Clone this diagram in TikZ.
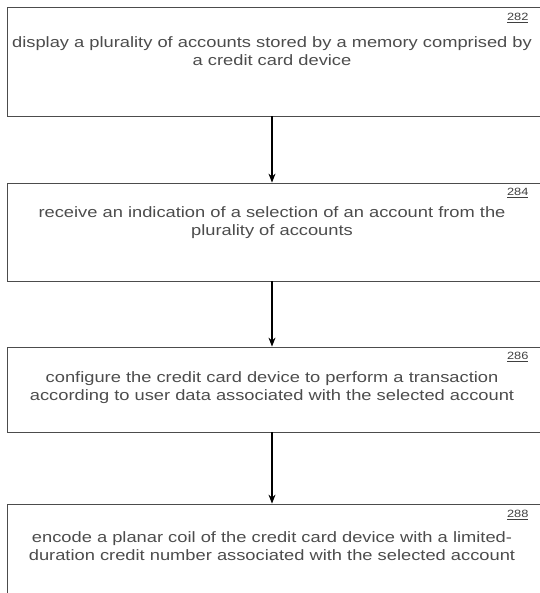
\documentclass[tikz,border=0pt]{standalone}
\usepackage{fontspec}
\setmainfont[FakeStretch=1.22]{Liberation Sans}
\usepackage{tikz}
\usetikzlibrary{arrows.meta}

\tikzset{
    stepbox/.style={draw=black!70, line width=0.8pt, minimum width=536pt, minimum height=#1, inner sep=0pt},
    steptext/.style={align=center, font=\fontsize{15}{18}\selectfont, text=black!70},
    stepnum/.style={anchor=east, font=\fontsize{10.5}{12}\selectfont, text=black!75},
    flow/.style={-{Stealth[length=9pt,width=7pt]}, line width=1.1pt}
}

\begin{document}
\begin{tikzpicture}[x=1pt,y=-1pt]
    \useasboundingbox (0,0) rectangle (539,593);
    \node[stepbox=109pt] (s1) at (275,61.5) {};
    \node[stepbox=98pt] (s2) at (275,232) {};
    \node[stepbox=85pt] (s3) at (275,389.5) {};
    \node[stepbox=100pt] (s4) at (275,554) {};
    \node[steptext] (t1) at (272,51) {display a plurality of accounts stored by a memory comprised by\\a credit card device};
    \node[steptext] (t2) at (272,223) {receive an indication of a selection of an account from the\\plurality of accounts};
    \node[steptext] (t3) at (272,388) {configure the credit card device to perform a transaction\\according to user data associated with the selected account};
    \node[steptext] (t4) at (272,546) {encode a planar coil of the credit card device with a limited-\\duration credit number associated with the selected account};
    \node[stepnum] (n1) at (532,18) {\underline{282}};
    \node[stepnum] (n2) at (532,193) {\underline{284}};
    \node[stepnum] (n3) at (532,357) {\underline{286}};
    \node[stepnum] (n4) at (532,515) {\underline{288}};
    \draw[flow] ([xshift=-3pt]s1.south) -- ([xshift=-3pt]s2.north);
    \draw[flow] ([xshift=-3pt]s2.south) -- ([xshift=-3pt]s3.north);
    \draw[flow] ([xshift=-3pt]s3.south) -- ([xshift=-3pt]s4.north);
\end{tikzpicture}
\end{document}
